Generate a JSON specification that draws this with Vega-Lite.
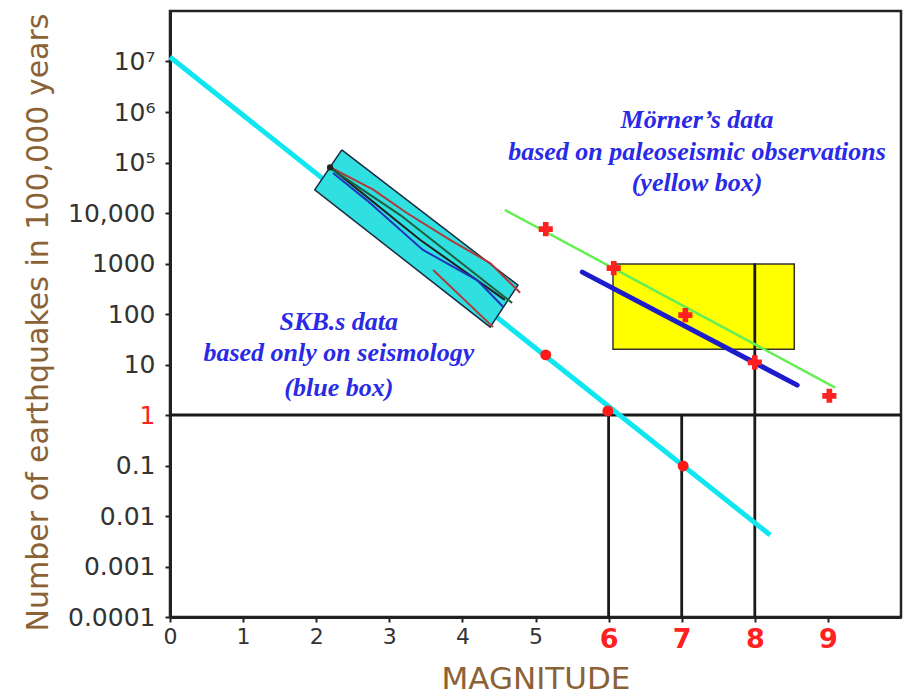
{
  "$schema": "https://vega.github.io/schema/vega-lite/v6.json",
  "width": 731,
  "height": 606,
  "autosize": {"type": "none"},
  "padding": {"left": 170, "top": 11, "right": 3, "bottom": 78},
  "background": "white",
  "config": {
    "view": {"stroke": "#222222", "strokeWidth": 2.5},
    "axis": {"grid": false}
  },
  "datasets": {
    "cyanline": [{"x": 0, "y": 12300000}, {"x": 8.21, "y": 0.0042}],
    "box": [
      {"x": 2.35, "y": 178000, "o": 0},
      {"x": 4.76, "y": 372, "o": 1},
      {"x": 4.38, "y": 55, "o": 2},
      {"x": 1.98, "y": 28800, "o": 3},
      {"x": 2.35, "y": 178000, "o": 4}
    ],
    "inner": [
      {"s": "r1", "o": 0, "x": 2.19, "y": 81000},
      {"s": "r1", "o": 1, "x": 2.78, "y": 29000},
      {"s": "r1", "o": 2, "x": 3.24, "y": 10000},
      {"s": "r1", "o": 3, "x": 3.83, "y": 2950},
      {"s": "r1", "o": 4, "x": 4.38, "y": 1020},
      {"s": "r1", "o": 5, "x": 4.79, "y": 263},
      {"s": "k", "o": 0, "x": 2.19, "y": 81000},
      {"s": "k", "o": 1, "x": 3.42, "y": 2950},
      {"s": "k", "o": 2, "x": 4.58, "y": 190},
      {"s": "g", "o": 0, "x": 2.19, "y": 78000},
      {"s": "g", "o": 1, "x": 3.15, "y": 9100},
      {"s": "g", "o": 2, "x": 4.68, "y": 166},
      {"s": "b", "o": 0, "x": 2.23, "y": 62000},
      {"s": "b", "o": 1, "x": 2.69, "y": 18000},
      {"s": "b", "o": 2, "x": 3.46, "y": 1860},
      {"s": "b", "o": 3, "x": 4.2, "y": 468},
      {"s": "b", "o": 4, "x": 4.56, "y": 138},
      {"s": "r2", "o": 0, "x": 3.6, "y": 741},
      {"s": "r2", "o": 1, "x": 4.42, "y": 55}
    ],
    "green": [{"x": 4.58, "y": 11500}, {"x": 9.1, "y": 3.5}],
    "blue": [{"x": 5.64, "y": 676}, {"x": 8.58, "y": 3.9}],
    "yellow": [{"x": 6.06, "x2": 8.54, "y": 20, "y2": 980}],
    "rules": [
      {"x": 6, "x2": 6, "y": 0.0001, "y2": 1},
      {"x": 7, "x2": 7, "y": 0.0001, "y2": 1},
      {"x": 8, "x2": 8, "y": 0.0001, "y2": 1000},
      {"x": 0, "x2": 10, "y": 1, "y2": 1}
    ],
    "crosses": [
      {"x": 5.14, "y": 4800},
      {"x": 6.07, "y": 810},
      {"x": 7.05, "y": 95},
      {"x": 8.0, "y": 11},
      {"x": 9.02, "y": 2.4}
    ],
    "dots": [
      {"x": 5.14, "y": 15.5},
      {"x": 5.99, "y": 1.2},
      {"x": 7.02, "y": 0.098}
    ],
    "startdot": [{"x": 2.19, "y": 80000}],
    "texts": [
      {"x": 7.21, "y": 690000, "t": "Mörner’s data"},
      {"x": 7.21, "y": 162000, "t": "based on paleoseismic observations"},
      {"x": 7.21, "y": 39000, "t": "(yellow box)"},
      {"x": 2.31, "y": 69, "t": "SKB.s data"},
      {"x": 2.31, "y": 17, "t": "based only on seismology"},
      {"x": 2.31, "y": 3.5, "t": "(blue box)"}
    ]
  },
  "encoding": {
    "x": {
      "field": "x",
      "type": "quantitative",
      "scale": {"domain": [0, 10], "nice": false, "zero": false},
      "axis": {
        "values": [0, 1, 2, 3, 4, 5, 6, 7, 8, 9],
        "title": "MAGNITUDE",
        "titleFont": "DejaVu Sans",
        "titleFontSize": 31,
        "titleFontWeight": "normal",
        "titleColor": "#8a6236",
        "titlePadding": 12,
        "labelFont": "DejaVu Sans",
        "labelFontSize": {"condition": {"test": "datum.value >= 6", "value": 27}, "value": 22},
        "labelFontWeight": {"condition": {"test": "datum.value >= 6", "value": "bold"}, "value": "normal"},
        "labelColor": {"condition": {"test": "datum.value >= 6", "value": "#ff2020"}, "value": "#333333"},
        "labelPadding": 4,
        "labelFlush": false,
        "tickSize": 5,
        "tickWidth": 2,
        "tickColor": "#222222",
        "domainColor": "#222222",
        "domainWidth": 3
      }
    },
    "y": {
      "field": "y",
      "type": "quantitative",
      "scale": {"type": "log", "domain": [0.0001, 100000000], "nice": false},
      "axis": {
        "values": [0.0001, 0.001, 0.01, 0.1, 1, 10, 100, 1000, 10000, 100000, 1000000, 10000000],
        "labelExpr": "datum.value >= 5e6 ? '10⁷' : datum.value >= 5e5 ? '10⁶' : datum.value >= 5e4 ? '10⁵' : datum.value >= 5e3 ? '10,000' : datum.value >= 500 ? '1000' : datum.value >= 50 ? '100' : datum.value >= 5 ? '10' : datum.value >= 0.5 ? '1' : datum.value >= 0.05 ? '0.1' : datum.value >= 0.005 ? '0.01' : datum.value >= 0.0005 ? '0.001' : '0.0001'",
        "title": "Number of earthquakes in 100,000 years",
        "titleFont": "DejaVu Sans",
        "titleFontSize": 30,
        "titleFontWeight": "normal",
        "titleColor": "#8a6236",
        "titlePadding": 14,
        "titleY": 311,
        "labelFont": "DejaVu Sans",
        "labelFontSize": 25,
        "labelColor": {"condition": {"test": "datum.value > 0.5 && datum.value < 2", "value": "#ff2020"}, "value": "#333333"},
        "labelPadding": 10,
        "labelFlush": false,
        "labelOverlap": false,
        "tickSize": 5,
        "tickWidth": 2,
        "tickColor": "#222222",
        "domainColor": "#222222",
        "domainWidth": 3
      }
    }
  },
  "layer": [
    {
      "data": {"name": "yellow"},
      "mark": {"type": "rect", "fill": "#ffff00", "stroke": "#333333", "strokeWidth": 1.5},
      "encoding": {"x2": {"field": "x2"}, "y2": {"field": "y2"}}
    },
    {
      "data": {"name": "rules"},
      "mark": {"type": "rule", "color": "#1a1a1a", "strokeWidth": 2.8},
      "encoding": {"x2": {"field": "x2"}, "y2": {"field": "y2"}}
    },
    {
      "data": {"name": "cyanline"},
      "mark": {"type": "line", "color": "#10e6f0", "strokeWidth": 5},
      "encoding": {}
    },
    {
      "data": {"name": "box"},
      "mark": {"type": "line", "fill": "#30e0e0", "stroke": "#1a2a40", "strokeWidth": 1.5},
      "encoding": {"order": {"field": "o", "type": "quantitative"}}
    },
    {
      "data": {"name": "inner"},
      "mark": {"type": "line", "strokeWidth": 2},
      "encoding": {
        "order": {"field": "o", "type": "quantitative"},
        "color": {
          "field": "s",
          "type": "nominal",
          "scale": {"domain": ["r1", "k", "g", "b", "r2"], "range": ["#b03a3a", "#222222", "#1f5f3f", "#2233bb", "#b03a3a"]},
          "legend": null
        }
      }
    },
    {
      "data": {"name": "startdot"},
      "mark": {"type": "point", "filled": true, "color": "#222222", "size": 40, "opacity": 1},
      "encoding": {}
    },
    {
      "data": {"name": "green"},
      "mark": {"type": "line", "color": "#66ee55", "strokeWidth": 2.5},
      "encoding": {}
    },
    {
      "data": {"name": "blue"},
      "mark": {"type": "line", "color": "#1c1ccc", "strokeWidth": 5, "strokeCap": "round"},
      "encoding": {}
    },
    {
      "data": {"name": "crosses"},
      "mark": {"type": "point", "shape": "cross", "filled": true, "color": "#ff2020", "size": 200, "opacity": 1},
      "encoding": {}
    },
    {
      "data": {"name": "dots"},
      "mark": {"type": "point", "shape": "circle", "filled": true, "color": "#ff1a1a", "size": 120, "opacity": 1},
      "encoding": {}
    },
    {
      "data": {"name": "texts"},
      "mark": {"type": "text", "font": "Liberation Serif", "fontSize": 26, "fontStyle": "italic", "fontWeight": "bold", "color": "#2a2ae6", "align": "center", "baseline": "middle"},
      "encoding": {"text": {"field": "t", "type": "nominal"}}
    }
  ]
}
